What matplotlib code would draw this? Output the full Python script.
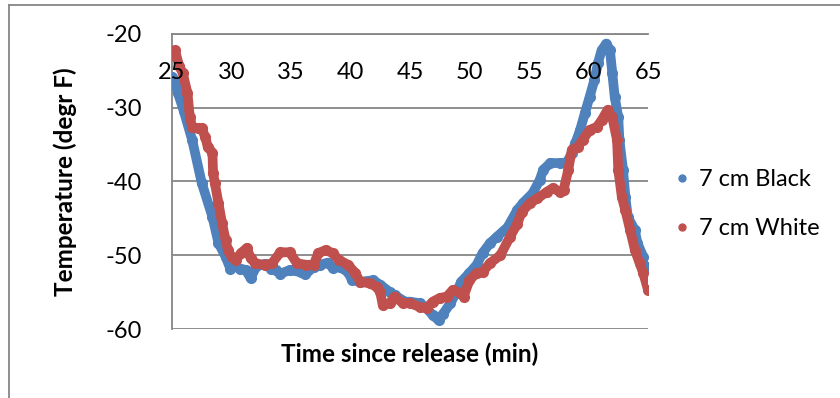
import matplotlib
matplotlib.use("Agg")
import matplotlib.pyplot as plt
from matplotlib.lines import Line2D

plt.rcParams['font.family'] = ['Lato', 'DejaVu Sans']
plt.rcParams['axes.unicode_minus'] = False

# 7 cm Black (blue)
t_black = [25.0, 25.25, 25.5, 26.0, 26.7, 27.5, 28.4, 28.9, 29.5, 29.9,
           30.3, 30.7, 31.2, 31.6, 32.1, 32.8, 33.3, 33.7, 34.1, 34.9,
           35.8, 36.2, 36.9, 37.4, 38.1, 38.5, 39.1, 39.8, 40.1, 40.8,
           41.9, 42.5, 43.3, 43.7, 44.6, 45.0, 45.8, 46.4, 46.9, 47.4,
           47.8, 48.4, 48.9, 49.3, 50.0, 50.6, 51.1, 51.7, 52.3, 53.2,
           54.0, 54.5, 55.3, 55.9, 56.2, 56.8, 57.6, 58.2, 58.6, 58.9,
           59.3, 59.7, 60.1, 60.5, 60.8, 61.1, 61.5, 61.8, 62.0, 62.2,
           62.5, 62.6, 62.9, 63.1, 63.3, 63.9, 64.1, 64.6, 65.0]
temp_black = [-25.8, -26.5, -28.0, -30.5, -34.4, -40.2, -44.8, -48.3, -50.2, -51.8,
              -51.5, -51.8, -52.0, -53.1, -51.5, -51.2, -51.8, -52.0, -52.5, -52.0,
              -52.3, -52.6, -51.6, -51.3, -51.0, -51.7, -51.6, -52.3, -53.3, -53.6,
              -53.4, -54.0, -55.0, -55.4, -56.3, -56.3, -56.5, -57.2, -58.1, -58.8,
              -57.9, -56.5, -55.0, -53.6, -52.4, -51.3, -49.7, -48.4, -47.5, -46.2,
              -43.9, -42.9, -41.6, -39.8, -38.4, -37.5, -37.5, -37.4, -36.1, -34.8,
              -33.0, -30.7, -28.5, -26.2, -23.9, -22.2, -21.3, -22.2, -25.3, -28.5,
              -31.3, -34.4, -38.4, -42.1, -44.8, -46.6, -48.3, -50.2, -51.6]

# 7 cm White (red)
t_white = [25.0, 25.25, 25.6, 25.9, 26.3, 26.5, 26.7, 27.2, 27.5, 27.8,
           28.0, 28.4, 28.45, 28.6, 28.9, 29.2, 29.5, 29.7, 30.0, 30.4,
           30.8, 31.3, 31.6, 32.0, 32.8, 33.4, 34.1, 34.9, 35.5, 36.3,
           36.9, 37.3, 37.9, 38.5, 39.0, 39.8, 40.4, 40.8, 41.6, 42.2,
           42.5, 42.7, 43.3, 43.7, 44.4, 45.0, 45.8, 46.4, 46.9, 47.5,
           48.1, 48.6, 49.2, 49.5, 50.0, 50.6, 51.1, 51.7, 52.6, 53.4,
           54.0, 54.4, 55.1, 55.7, 56.5, 57.0, 57.6, 57.9, 58.3, 58.6,
           59.1, 59.5, 60.1, 60.7, 61.1, 61.6, 62.0, 62.4, 62.5, 62.8,
           63.1, 63.5, 63.9, 64.3, 64.6, 65.0]
temp_white = [-22.8, -22.2, -24.3, -25.3, -28.0, -31.3, -32.6, -32.8, -32.8, -34.0,
              -35.3, -36.1, -38.8, -40.2, -42.9, -45.6, -47.9, -49.3, -50.2, -50.6,
              -49.7, -49.0, -50.4, -51.1, -51.3, -51.1, -49.6, -49.6, -51.1, -51.3,
              -51.3, -49.7, -49.3, -49.7, -50.6, -51.3, -52.4, -53.6, -53.8, -54.3,
              -55.0, -56.7, -56.5, -55.6, -56.5, -56.5, -57.0, -57.2, -56.3, -55.8,
              -55.6, -54.7, -55.1, -55.6, -53.4, -52.4, -52.3, -51.1, -50.0, -47.5,
              -45.8, -44.1, -42.9, -42.3, -41.4, -40.9, -41.4, -41.2, -38.4, -35.7,
              -35.3, -34.4, -33.0, -32.6, -31.7, -30.3, -31.3, -34.4, -38.4, -42.1,
              -43.9, -46.6, -49.3, -51.1, -52.4, -54.7]

x_ticks = [25, 30, 35, 40, 45, 50, 55, 60, 65]
y_ticks = [-60, -50, -40, -30, -20]

blue = '#4F81BD'
red = '#C0504D'
grey = '#868686'

fig = plt.figure(figsize=(8.4, 3.98), dpi=100)
ax = fig.add_axes([172 / 840, 1 - 329 / 398, 476 / 840, 295 / 398])

ax.plot(t_black, temp_black, color=blue, lw=7, marker='o', ms=7,
        solid_capstyle='round', solid_joinstyle='round', zorder=3)
ax.plot(t_white, temp_white, color=red, lw=7, marker='o', ms=7,
        solid_capstyle='round', solid_joinstyle='round', zorder=4)

ax.set_xlim(25, 65)
ax.set_ylim(-60, -20)
ax.set_xticks(x_ticks)
ax.set_yticks(y_ticks)

ax.grid(axis='y', color=grey, lw=1.3)
ax.set_axisbelow(True)
ax.xaxis.set_zorder(6)  # tick labels drawn over the data
for s in ['right', 'bottom']:
    ax.spines[s].set_visible(False)
for s in ['left', 'top']:
    ax.spines[s].set_color(grey)
    ax.spines[s].set_linewidth(1.3)

ax.tick_params(axis='x', bottom=False, top=False, labelbottom=False,
               labeltop=True, pad=-39, labelsize=17)
ax.tick_params(axis='y', left=False, pad=18, labelsize=17)

ax.set_xlabel('Time since release (min)', fontsize=17.5, fontweight='bold')
ax.set_ylabel('Temperature (degr F)', fontsize=17.5, fontweight='bold')
ax.xaxis.set_label_coords(0.5, -0.045)
ax.yaxis.set_label_coords(-0.20, 0.5)

handles = [Line2D([], [], color=blue, marker='o', ls='none', ms=5),
           Line2D([], [], color=red, marker='o', ls='none', ms=5)]
fig.legend(handles, ['7 cm Black', '7 cm White'], loc='center left',
           bbox_to_anchor=(673 / 840, 1 - 204 / 398), frameon=False,
           fontsize=17, handlelength=0.8, handletextpad=0.3,
           labelspacing=1.2, borderpad=0, borderaxespad=0)

# outer chart frame
fig.add_artist(Line2D([9 / 840, 9 / 840], [0, 1 - 5 / 398], color=grey, lw=1.3))
fig.add_artist(Line2D([9 / 840, 1], [1 - 5 / 398, 1 - 5 / 398], color=grey, lw=1.3))

fig.savefig('out.png', dpi=100)
